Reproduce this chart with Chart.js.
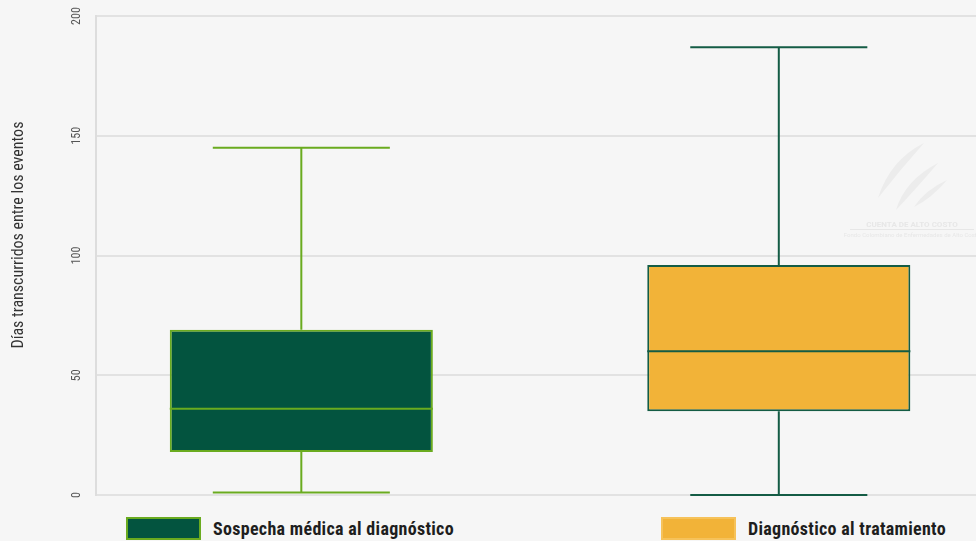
<!DOCTYPE html>
<html>
<head>
<meta charset="utf-8">
<script src="https://cdn.jsdelivr.net/npm/chart.js@4/dist/chart.umd.min.js"></script>
<style>
  html, body { margin: 0; padding: 0; background: #f6f6f6; }
  #wrap { position: relative; width: 976px; height: 541px; overflow: hidden; }
  #chart { position: absolute; left: 0; top: 0; }
  .leg-item { position: absolute; top: 517px; height: 23px; display: flex; align-items: center;
              font: bold 18px "Roboto Condensed", sans-serif; color: #1e1e1e; letter-spacing: 0.3px; }
  .leg-swatch { box-sizing: border-box; width: 75px; height: 23px; border: 2px solid; margin-right: 12px; }
</style>
</head>
<body>
<div id="wrap">
  <canvas id="chart" width="976" height="505"></canvas>
  <div id="legend"></div>
</div>
<script>
// Five-number summaries (days between events) for each interval
const categories = ['Sospecha médica al diagnóstico', 'Diagnóstico al tratamiento'];
const whiskerLow  = [1, 0];
const quartile1   = [18, 35];
const medians     = [36, 60];
const quartile3   = [69, 96];
const whiskerHigh = [145, 187];
const yTicks      = [0, 50, 100, 150, 200];
const yTitle      = 'Días transcurridos entre los eventos';

const fills   = ['#03543f', '#f2b338'];
const strokes = ['#6aab1f', '#145c45'];
const legendBorders = ['#6aab1f', '#f6c25a'];
const legendLeft = [126, 661];

// Whiskers, caps and median lines on top of the floating IQR bars
const whiskerPlugin = {
  id: 'whiskers',
  afterDatasetsDraw(chart) {
    const { ctx } = chart;
    const y = chart.scales.y;
    chart.data.datasets.forEach((ds, i) => {
      const meta = chart.getDatasetMeta(i);
      if (meta.hidden) return;
      meta.data.forEach(bar => {
        const { x, width } = bar.getProps(['x', 'width'], true);
        const yHi = y.getPixelForValue(whiskerHigh[i]);
        const yLo = y.getPixelForValue(whiskerLow[i]);
        const yQ3 = y.getPixelForValue(quartile3[i]);
        const yQ1 = y.getPixelForValue(quartile1[i]);
        const yMed = y.getPixelForValue(medians[i]);
        const cap = width * 0.673 / 2;
        const half = width / 2;
        ctx.save();
        ctx.strokeStyle = strokes[i];
        ctx.lineWidth = 2;
        ctx.beginPath();
        ctx.moveTo(x, yQ3); ctx.lineTo(x, yHi);
        ctx.moveTo(x - cap, yHi); ctx.lineTo(x + cap, yHi);
        ctx.moveTo(x, yQ1); ctx.lineTo(x, yLo);
        ctx.moveTo(x - cap, yLo); ctx.lineTo(x + cap, yLo);
        ctx.moveTo(x - half, yMed); ctx.lineTo(x + half, yMed);
        ctx.stroke();
        ctx.restore();
      });
    });
  }
};

// Vertical tick labels and axis title for the value axis
const verticalAxisText = {
  id: 'verticalAxisText',
  afterDraw(chart) {
    const { ctx } = chart;
    const y = chart.scales.y;
    ctx.save();
    ctx.textAlign = 'center';
    ctx.textBaseline = 'middle';
    ctx.fillStyle = '#555555';
    ctx.font = '12px "Roboto Condensed", sans-serif';
    yTicks.forEach(v => {
      ctx.save();
      ctx.translate(77, y.getPixelForValue(v));
      ctx.rotate(-Math.PI / 2);
      ctx.fillText(String(v), 0, 0);
      ctx.restore();
    });
    ctx.fillStyle = '#333333';
    ctx.font = '16px "Roboto Condensed", sans-serif';
    ctx.translate(19, 235);
    ctx.rotate(-Math.PI / 2);
    ctx.fillText(yTitle, 0, 0);
    ctx.restore();
  }
};

// Faint organisation mark in the plot background
const watermark = {
  id: 'watermark',
  beforeDatasetsDraw(chart) {
    const { ctx } = chart;
    ctx.save();
    ctx.fillStyle = '#ececec';
    const blade = (sx, sy, c1x, c1y, tx, ty, c2x, c2y) => {
      ctx.beginPath();
      ctx.moveTo(sx, sy);
      ctx.quadraticCurveTo(c1x, c1y, tx, ty);
      ctx.quadraticCurveTo(c2x, c2y, sx, sy);
      ctx.fill();
    };
    blade(878, 198, 890, 160, 924, 143, 900, 170);
    blade(896, 210, 905, 180, 938, 163, 915, 190);
    blade(914, 207, 925, 190, 947, 180, 932, 198);
    ctx.fillStyle = '#e7e7e7';
    ctx.textAlign = 'center';
    ctx.textBaseline = 'middle';
    ctx.font = 'bold 8px "Roboto", sans-serif';
    ctx.fillText('CUENTA DE ALTO COSTO', 912, 225);
    ctx.fillRect(850, 229, 124, 1);
    ctx.font = '6px "Roboto", sans-serif';
    ctx.fillText('Fondo Colombiano de Enfermedades de Alto Costo', 912, 235);
    ctx.restore();
  }
};

const datasets = categories.map((name, i) => ({
  label: name,
  data: [{ x: i, y: [quartile1[i], quartile3[i]] }],
  backgroundColor: fills[i],
  borderColor: strokes[i],
  borderWidth: 2,
  borderSkipped: false,
  grouped: false,
  barPercentage: 0.551,
  categoryPercentage: 1
}));

const chart = new Chart(document.getElementById('chart'), {
  type: 'bar',
  data: { datasets },
  options: {
    responsive: false,
    animation: false,
    layout: { padding: { top: 16, bottom: 10, left: 0, right: 0 } },
    plugins: {
      legend: { display: false },
      tooltip: { enabled: false }
    },
    scales: {
      x: {
        type: 'linear',
        display: false,
        offset: false,
        min: -0.43,
        max: 1.413,
        // one tick per group so bar widths follow the group spacing
        afterBuildTicks(scale) {
          scale.ticks = categories.map((c, i) => ({ value: i }));
        }
      },
      y: {
        min: 0,
        max: 200,
        ticks: { display: false, stepSize: 50 },
        grid: { color: '#e2e2e2', lineWidth: 2, drawTicks: false },
        border: { display: true, color: '#dddddd', width: 2 },
        afterFit(scale) { scale.width = 96; }
      }
    }
  },
  plugins: [watermark, whiskerPlugin, verticalAxisText]
});

// Legend below the plot, built from the datasets
const legendEl = document.getElementById('legend');
chart.data.datasets.forEach((ds, i) => {
  const item = document.createElement('div');
  item.className = 'leg-item';
  item.style.left = legendLeft[i] + 'px';
  const sw = document.createElement('span');
  sw.className = 'leg-swatch';
  sw.style.background = ds.backgroundColor;
  sw.style.borderColor = legendBorders[i];
  const txt = document.createElement('span');
  txt.textContent = ds.label;
  item.appendChild(sw);
  item.appendChild(txt);
  legendEl.appendChild(item);
});
</script>
</body>
</html>
